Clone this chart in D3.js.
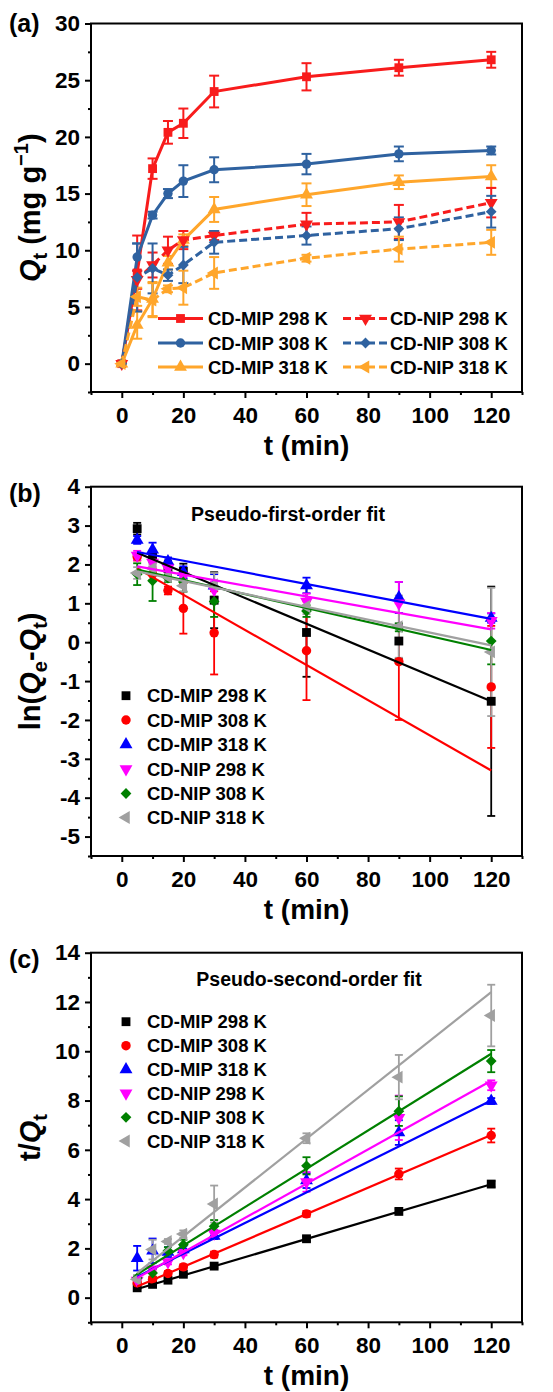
<!DOCTYPE html>
<html>
<head>
<meta charset="utf-8">
<script src="https://cdn.jsdelivr.net/npm/d3@7"></script>
<style>
  body { margin: 0; background: #fff; }
  svg text { font-family: "Liberation Sans", Arial, sans-serif; font-weight: bold; fill: #000; }
</style>
</head>
<body>
<svg id="fig" width="553" height="1392"></svg>
<script>
// ---- data ----
const seriesNames = ['CD-MIP 298 K', 'CD-MIP 308 K', 'CD-MIP 318 K', 'CD-NIP 298 K', 'CD-NIP 308 K', 'CD-NIP 318 K'];

// (a) kinetics, t in min
const tKin = [0, 5, 10, 15, 20, 30, 60, 90, 120];
const qMip298 = [0, 8.0, 17.2, 20.4, 21.2, 24.0, 25.3, 26.1, 26.8];
const qMip308 = [0, 9.4, 13.1, 15.0, 16.1, 17.1, 17.6, 18.5, 18.8];
const qMip318 = [0, 3.4, 5.7, 8.9, 10.9, 13.6, 14.9, 16.0, 16.5];
const qNip298 = [0, 7.4, 8.7, 10.0, 10.9, 11.3, 12.3, 12.5, 14.2];
const qNip308 = [0, 7.6, 8.4, 7.8, 8.7, 10.7, 11.3, 11.9, 13.4];
const qNip318 = [0, 5.9, 5.6, 6.6, 6.7, 8.0, 9.3, 10.1, 10.7];
const eMip298 = [0.2, 3.3, 0.9, 1.0, 1.3, 1.4, 1.2, 0.7, 0.7];
const eMip308 = [0.2, 1.2, 0.3, 0.4, 1.4, 1.1, 0.9, 0.65, 0.35];
const eMip318 = [0.2, 1.2, 1.5, 0.6, 0.5, 1.1, 1.0, 0.6, 1.0];
const eNip298 = [0.2, 0.8, 1.1, 1.2, 0.8, 0.4, 1.0, 1.5, 1.3];
const eNip308 = [0.2, 3.0, 2.2, 0.5, 1.6, 1.0, 0.8, 1.0, 1.4];
const eNip318 = [0.2, 0.8, 1.5, 0.3, 1.5, 1.4, 0.3, 1.1, 1.1];

// (b) and (c) share the time points
const tFit = [5, 10, 15, 20, 30, 60, 90, 120];

// (b) ln(Qe - Qt)
const lnMip298 = [2.92, 2.2, 1.9, 1.82, 1.08, 0.25, 0.03, -1.52];
const lnMip308 = [2.2, 1.75, 1.33, 0.87, 0.24, -0.22, -0.5, -1.15];
const lnMip318 = [2.63, 2.38, 2.08, 1.8, 1.45, 1.46, 1.15, 0.62];
const lnNip298 = [2.23, 2.05, 1.9, 1.7, 1.35, 1.05, 1.0, 0.55];
const lnNip308 = [1.75, 1.58, 1.65, 1.55, 1.05, 0.8, 0.38, 0.03];
const lnNip318 = [1.78, 1.9, 1.68, 1.45, 1.48, 0.92, 0.4, -0.25];
const lnErrMip298 = [0.15, 0.15, 0.2, 0.2, 0.72, 1.14, 0.45, 2.95];
const lnErrMip308 = [0.1, 0.15, 0.1, 0.65, 1.07, 1.27, 1.5, 1.57];
const lnErrMip318 = [0.1, 0.18, 0.1, 0.15, 0.3, 0.2, 0.4, 0.12];
const lnErrNip298 = [0.12, 0.1, 0.1, 0.1, 0.2, 0.2, 0.55, 0.2];
const lnErrNip308 = [0.28, 0.52, 0.1, 0.25, 0.4, 0.15, 0.1, 0.6];
const lnErrNip318 = [0.15, 0.1, 0.1, 0.15, 0.3, 0.2, 0.8, 1.65];
// fitted lines, value at t = 5 and t = 120
const lnFitStart = [2.3, 1.9, 2.32, 1.95, 1.87, 1.82];
const lnFitEnd = [-1.52, -3.3, 0.6, 0.33, -0.2, -0.08];

// (c) t / Qt
const tqMip298 = [0.4, 0.54, 0.71, 0.95, 1.28, 2.39, 3.5, 4.61];
const tqMip308 = [0.6, 0.75, 0.98, 1.25, 1.75, 3.4, 5.02, 6.58];
const tqMip318 = [1.6, 1.9, 1.85, 1.95, 2.5, 4.75, 6.7, 7.98];
const tqNip298 = [0.7, 1.15, 1.45, 1.82, 2.6, 4.7, 7.3, 8.62];
const tqNip308 = [0.8, 1.0, 1.9, 2.15, 2.9, 5.35, 7.57, 9.6];
const tqNip318 = [0.75, 1.95, 2.28, 2.58, 3.8, 6.47, 8.95, 11.45];
const tqErrMip298 = [0.05, 0.05, 0.05, 0.05, 0.08, 0.1, 0.1, 0.12];
const tqErrMip308 = [0.08, 0.1, 0.1, 0.1, 0.12, 0.12, 0.22, 0.28];
const tqErrMip318 = [0.5, 0.5, 0.2, 0.15, 0.12, 0.3, 0.5, 0.12];
const tqErrNip298 = [0.1, 0.1, 0.1, 0.1, 0.15, 0.4, 0.9, 0.2];
const tqErrNip308 = [0.1, 0.15, 0.15, 0.2, 0.25, 0.35, 0.6, 0.45];
const tqErrNip318 = [0.15, 0.4, 0.1, 0.15, 0.75, 0.2, 0.9, 1.25];
const tqFitStart = [0.35, 0.45, 0.85, 0.8, 0.95, 1.0];
const tqFitEnd = [4.6, 6.6, 8.0, 8.8, 9.9, 12.4];

const xTicks = [0, 20, 40, 60, 80, 100, 120];
const xMinor = [-10, 10, 30, 50, 70, 90, 110, 130];

// ---- styles ----
const colorsA = ['#F81C1C', '#2F62A0', '#FFA62B', '#F81C1C', '#2F62A0', '#FFA62B'];
const colorsBC = ['#000000', '#FF0000', '#0000FF', '#FF00FF', '#008000', '#A0A0A0'];
const shapes = ['square', 'circle', 'up', 'down', 'diamond', 'left'];

const svg = d3.select('#fig');
const PLOT_L = 91, PLOT_R = 522;
const x = d3.scaleLinear().domain([-10, 130]).range([PLOT_L, PLOT_R]);

function symbolPath(shape) {
  if (shape === 'square') return { d: d3.symbol(d3.symbolSquare, 78)(), rot: 0 };
  if (shape === 'circle') return { d: d3.symbol(d3.symbolCircle, 70)(), rot: 0 };
  if (shape === 'diamond') return { d: d3.symbol(d3.symbolSquare, 58)(), rot: 45 };
  const tri = d3.symbol(d3.symbolTriangle, 72)();
  const rot = shape === 'up' ? 0 : shape === 'down' ? 180 : -90;
  return { d: tri, rot: rot };
}

function drawMarker(g, shape, cx, cy, color) {
  const s = symbolPath(shape);
  g.append('path')
    .attr('d', s.d)
    .attr('transform', `translate(${cx},${cy}) rotate(${s.rot})`)
    .attr('fill', color);
}

function makePanel(top, bottom, yDomain, yMajor, yMinor) {
  const y = d3.scaleLinear().domain(yDomain).range([bottom, top]);
  const g = svg.append('g');

  g.append('g').attr('transform', `translate(${PLOT_L},0)`)
    .call(d3.axisLeft(y).tickValues(yMinor).tickSize(3).tickFormat('').tickSizeOuter(0));
  g.append('g').attr('transform', `translate(${PLOT_L},0)`)
    .call(d3.axisLeft(y).tickValues(yMajor).tickSize(6).tickPadding(5)
      .tickFormat(d => String(d)).tickSizeOuter(0));
  g.append('g').attr('transform', `translate(0,${bottom})`)
    .call(d3.axisBottom(x).tickValues(xMinor).tickSize(3).tickFormat('').tickSizeOuter(0));
  g.append('g').attr('transform', `translate(0,${bottom})`)
    .call(d3.axisBottom(x).tickValues(xTicks).tickSize(6).tickPadding(9)
      .tickFormat(d => String(d)).tickSizeOuter(0));

  g.selectAll('.domain').remove();
  g.selectAll('.tick line').attr('stroke', '#000').attr('stroke-width', 2);
  g.selectAll('.tick text').attr('font-size', 22.5);

  g.append('rect')
    .attr('x', PLOT_L).attr('y', top)
    .attr('width', PLOT_R - PLOT_L).attr('height', bottom - top)
    .attr('fill', 'none').attr('stroke', '#000').attr('stroke-width', 2);

  g.append('text')
    .attr('x', (PLOT_L + PLOT_R) / 2).attr('y', bottom + 63)
    .attr('text-anchor', 'middle').attr('font-size', 28)
    .text('t (min)');

  return { g, y, top, bottom };
}

function yTitle(p, parts) {
  const cy = (p.top + p.bottom) / 2;
  const t = p.g.append('text')
    .attr('transform', `translate(40,${cy}) rotate(-90)`)
    .attr('text-anchor', 'middle').attr('font-size', 29);
  parts.forEach(part => {
    const ts = t.append('tspan').text(part.s);
    if (part.italic) ts.attr('font-style', 'italic');
    if (part.sub) ts.attr('font-size', 20).attr('dy', 7);
    if (part.sup) ts.attr('font-size', 20).attr('dy', -12);
    if (part.dy) ts.attr('dy', part.dy);
  });
}

function errorBars(g, y, ts, vals, errs, color, cap, width) {
  ts.forEach((t, i) => {
    const cx = x(t);
    const y1 = y(vals[i] - errs[i]), y2 = y(vals[i] + errs[i]);
    g.append('line').attr('x1', cx).attr('x2', cx).attr('y1', y1).attr('y2', y2)
      .attr('stroke', color).attr('stroke-width', width);
    [y1, y2].forEach(yy => {
      g.append('line').attr('x1', cx - cap / 2).attr('x2', cx + cap / 2).attr('y1', yy).attr('y2', yy)
        .attr('stroke', color).attr('stroke-width', width);
    });
  });
}

// ---------------- (a) ----------------
const pa = makePanel(23.5, 392, [-2.5, 30], [0, 5, 10, 15, 20, 25, 30], [-2.5, 2.5, 7.5, 12.5, 17.5, 22.5, 27.5]);
yTitle(pa, [{ s: 'Q', italic: true }, { s: 't', sub: true }, { s: ' (mg g', dy: -7 }, { s: '\u22121', sup: true }, { s: ')', dy: 12 }]);
svg.append('text').attr('x', 9).attr('y', 32).attr('font-size', 25).text('(a)');

const qA = [qMip298, qMip308, qMip318, qNip298, qNip308, qNip318];
const eA = [eMip298, eMip308, eMip318, eNip298, eNip308, eNip318];
const lineA = d3.line().x((d, i) => x(tKin[i])).y(d => pa.y(d));

qA.forEach((vals, k) => {
  errorBars(pa.g, pa.y, tKin, vals, eA[k], colorsA[k], 10, 2);
});
qA.forEach((vals, k) => {
  pa.g.append('path').attr('d', lineA(vals)).attr('fill', 'none')
    .attr('stroke', colorsA[k]).attr('stroke-width', 3)
    .attr('stroke-dasharray', k >= 3 ? '8,4' : null);
});
qA.forEach((vals, k) => {
  vals.forEach((v, i) => drawMarker(pa.g, shapes[k], x(tKin[i]), pa.y(v), colorsA[k]));
});

// legend (a)
const legRowsA = [318.5, 343, 367];
seriesNames.forEach((name, k) => {
  const col = k < 3 ? 0 : 1;
  const row = k % 3;
  const x0 = col === 0 ? 158 : 343;
  const yy = legRowsA[row];
  pa.g.append('line').attr('x1', x0).attr('x2', x0 + 45).attr('y1', yy).attr('y2', yy)
    .attr('stroke', colorsA[k]).attr('stroke-width', 3)
    .attr('stroke-dasharray', k >= 3 ? '8,4' : null);
  drawMarker(pa.g, shapes[k], x0 + 22.5, yy, colorsA[k]);
  pa.g.append('text').attr('x', col === 0 ? 208 : 390).attr('y', yy + 6.5)
    .attr('font-size', 18.5).text(name);
});

// ---------------- (b) ----------------
const pb = makePanel(486.7, 856, [-5.5, 4], d3.range(-5, 5), d3.range(-5.5, 4, 1));
yTitle(pb, [{ s: 'ln(' }, { s: 'Q', italic: true }, { s: 'e', sub: true }, { s: '-', dy: -7 },
  { s: 'Q', italic: true }, { s: 't', sub: true }, { s: ')', dy: -7 }]);
svg.append('text').attr('x', 9).attr('y', 502).attr('font-size', 25).text('(b)');
pb.g.append('text').attr('x', 288).attr('y', 521).attr('text-anchor', 'middle')
  .attr('font-size', 19.5).text('Pseudo-first-order fit');

function fitPanel(p, vals, errs, starts, ends, legRows) {
  vals.forEach((v, k) => errorBars(p.g, p.y, tFit, v, errs[k], colorsBC[k], 8, 1.8));
  vals.forEach((v, k) => v.forEach((d, i) => drawMarker(p.g, shapes[k], x(tFit[i]), p.y(d), colorsBC[k])));
  starts.forEach((s, k) => {
    p.g.append('line')
      .attr('x1', x(tFit[0])).attr('y1', p.y(s))
      .attr('x2', x(tFit[tFit.length - 1])).attr('y2', p.y(ends[k]))
      .attr('stroke', colorsBC[k]).attr('stroke-width', 2.2);
  });
  seriesNames.forEach((name, k) => {
    drawMarker(p.g, shapes[k], 126, legRows[k], colorsBC[k]);
    p.g.append('text').attr('x', 147).attr('y', legRows[k] + 6.5)
      .attr('font-size', 18.5).text(name);
  });
}

fitPanel(pb,
  [lnMip298, lnMip308, lnMip318, lnNip298, lnNip308, lnNip318],
  [lnErrMip298, lnErrMip308, lnErrMip318, lnErrNip298, lnErrNip308, lnErrNip318],
  lnFitStart, lnFitEnd,
  [695.7, 720, 744.5, 769, 793.5, 817.5]);

// ---------------- (c) ----------------
const pc = makePanel(952.7, 1322.3, [-1, 14], d3.range(0, 15, 2), d3.range(-1, 14, 2));
yTitle(pc, [{ s: 't/' }, { s: 'Q', italic: true }, { s: 't', sub: true }]);
svg.append('text').attr('x', 9).attr('y', 968).attr('font-size', 25).text('(c)');
pc.g.append('text').attr('x', 309).attr('y', 986).attr('text-anchor', 'middle')
  .attr('font-size', 19.5).text('Pseudo-second-order fit');

fitPanel(pc,
  [tqMip298, tqMip308, tqMip318, tqNip298, tqNip308, tqNip318],
  [tqErrMip298, tqErrMip308, tqErrMip318, tqErrNip298, tqErrNip308, tqErrNip318],
  tqFitStart, tqFitEnd,
  [1021.7, 1045.7, 1069.5, 1093.3, 1117.3, 1141]);
</script>
</body>
</html>
